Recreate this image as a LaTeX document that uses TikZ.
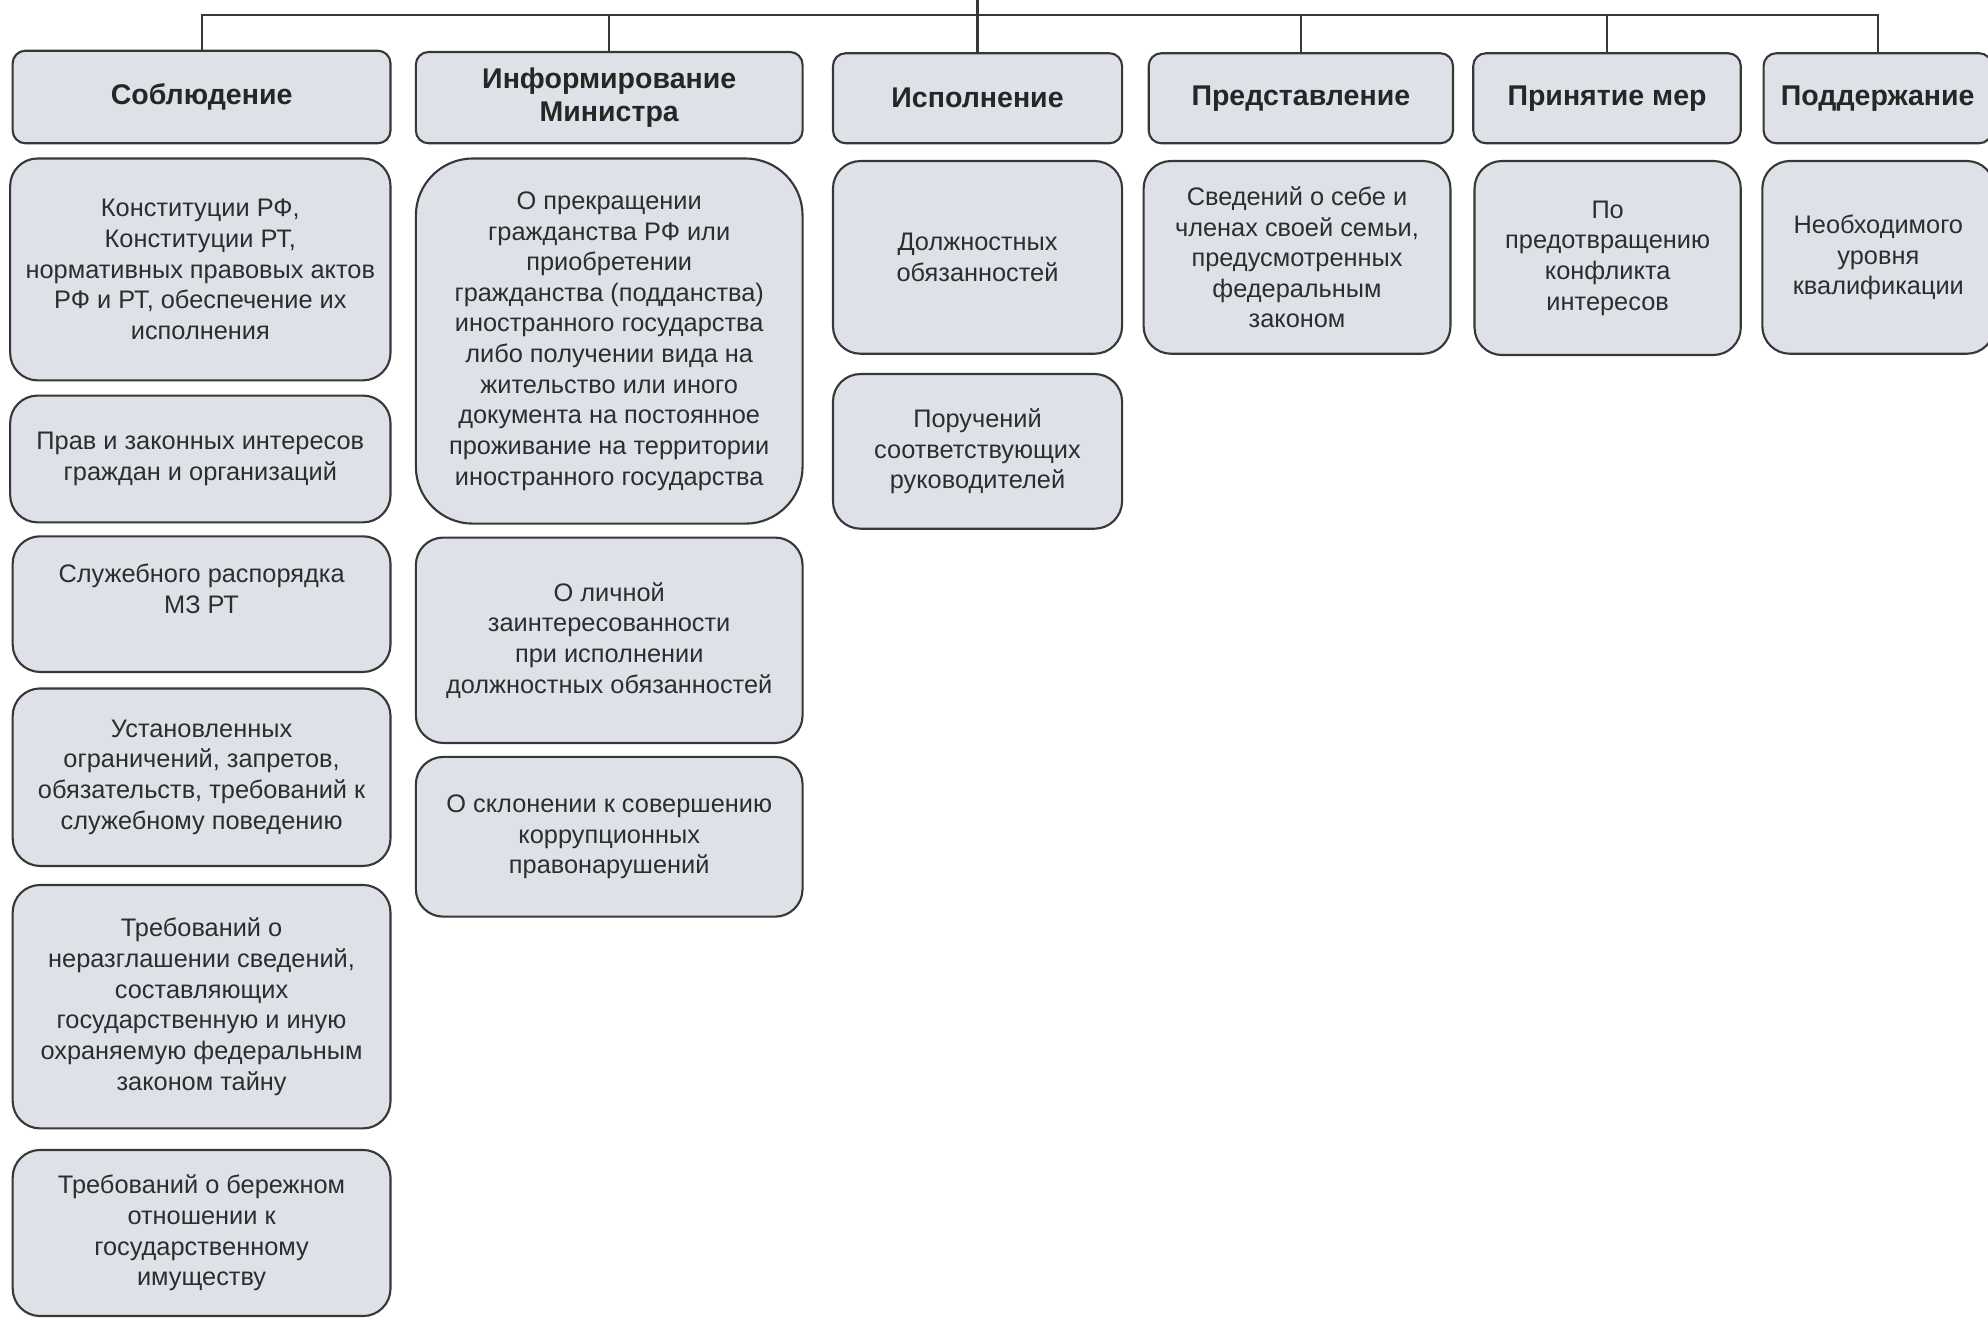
\documentclass[tikz,border=0pt]{standalone}
\usepackage{fontspec}
\setmainfont{Liberation Sans}
\definecolor{boxc}{RGB}{222,226,232}
\definecolor{linec}{RGB}{55,55,55}
\definecolor{textc}{RGB}{45,45,45}
\tikzset{
  hdr/.style={draw=linec, fill=boxc, line width=1pt, rounded corners=6pt,
    font=\bfseries\fontsize{13.5}{15.5}\selectfont, text=black!85, align=center, inner sep=0pt},
  sub/.style={draw=linec, fill=boxc, line width=1pt, rounded corners=13pt,
    font=\fontsize{12}{14.5}\selectfont, text=textc, align=center, inner sep=0pt},
  bigsub/.style={sub, rounded corners=27pt},
  conn/.style={draw=linec, line width=1pt}
}
% #1 style, #2 name, #3 x1, #4 y1, #5 x2, #6 y2, #7 text
\newcommand\bx[7]{%
  \node[#1, minimum width={(#5-#3)*0.6pt}, minimum height={(#6-#4)*0.6pt}]
    (#2) at ({(#3+#5)/2},{(#4+#6)/2}) {#7};}
\begin{document}
\begin{tikzpicture}[x=0.6pt, y=-0.6pt]
\useasboundingbox (0,0) rectangle (1568,1041);
\clip (0,0) rectangle (1568,1041);
% headers
\bx{hdr}{h1}{10}{40}{308}{113}{Соблюдение}
\bx{hdr}{h2}{328}{41}{633}{113}{Информирование\\Министра}
\bx{hdr}{h3}{657}{42}{885}{113}{Исполнение}
\bx{hdr}{h4}{906}{42}{1146}{113}{Представление}
\bx{hdr}{h5}{1162}{42}{1373}{113}{Принятие мер}
\bx{hdr}{h6}{1391}{42}{1571}{113}{Поддержание}
% connectors
\coordinate (root) at (771,-2);
\coordinate (bus) at (771,12);
\draw[conn] (root) -- (bus);
\draw[conn] (h1.north) -- (h1.north |- bus) -- (h6.north |- bus) -- (h6.north);
\foreach \h in {h2,h3,h4,h5}{\draw[conn] (\h.north) -- (\h.north |- bus);}
% column 1
\bx{sub}{a1}{8}{125}{308}{300}{Конституции РФ,\\Конституции РТ,\\нормативных правовых актов\\РФ и РТ, обеспечение их\\исполнения}
\bx{sub}{a2}{8}{312}{308}{412}{Прав и законных интересов\\граждан и организаций}
\bx{sub}{a3}{10}{423}{308}{530}{Служебного распорядка\\МЗ РТ\\~}
\bx{sub}{a4}{10}{543}{308}{683}{Установленных\\ограничений, запретов,\\обязательств, требований к\\служебному поведению}
\bx{sub}{a5}{10}{698}{308}{890}{Требований о\\неразглашении сведений,\\составляющих\\государственную и иную\\охраняемую федеральным\\законом тайну}
\bx{sub}{a6}{10}{907}{308}{1038}{Требований о бережном\\отношении к\\государственному\\имуществу}
% column 2
\bx{bigsub}{b1}{328}{125}{633}{413}{О прекращении\\гражданства РФ или\\приобретении\\гражданства (подданства)\\иностранного государства\\либо получении вида на\\жительство или иного\\документа на постоянное\\проживание на территории\\иностранного государства}
\bx{sub}{b2}{328}{424}{633}{586}{О личной\\заинтересованности\\при исполнении\\должностных обязанностей}
\bx{sub}{b3}{328}{597}{633}{723}{О склонении к совершению\\коррупционных\\правонарушений}
% column 3
\bx{sub}{c1}{657}{127}{885}{279}{Должностных\\обязанностей}
\bx{sub}{c2}{657}{295}{885}{417}{Поручений\\соответствующих\\руководителей}
% column 4
\bx{sub}{d1}{902}{127}{1144}{279}{Сведений о себе и\\членах своей семьи,\\предусмотренных\\федеральным\\законом}
% column 5
\bx{sub}{e1}{1163}{127}{1373}{280}{По\\предотвращению\\конфликта\\интересов}
% column 6
\bx{sub}{f1}{1390}{127}{1573}{279}{Необходимого\\уровня\\квалификации}
\end{tikzpicture}
\end{document}
